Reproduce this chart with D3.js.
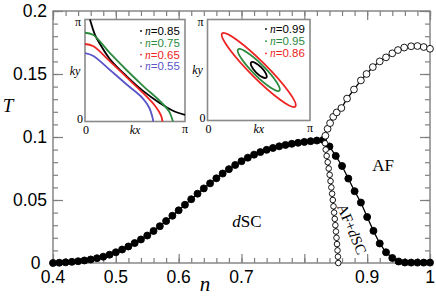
<!DOCTYPE html>
<html>
<head>
<meta charset="utf-8">
<script src="https://cdn.jsdelivr.net/npm/d3@7/dist/d3.min.js"></script>
<style>
body { margin: 0; background: #fff; }
svg { display: block; }
.lbl { font-family: "Liberation Sans", Arial, sans-serif; font-size: 17.5px; fill: #000; }
.serif { font-family: "Liberation Serif", "Times New Roman", serif; fill: #000; }
</style>
</head>
<body>
<div id="chart"></div>
<script>
// ---- main panel data ----
const scN = [0.40,0.41,0.42,0.43,0.44,0.45,0.46,0.47,0.48,0.49,
             0.50,0.51,0.52,0.53,0.54,0.55,0.56,0.57,0.58,0.59,
             0.60,0.61,0.62,0.63,0.64,0.65,0.66,0.67,0.68,0.69,
             0.70,0.71,0.72,0.73,0.74,0.75,0.76,0.77,0.78,0.79,
             0.80,0.81,0.82,0.83,0.84,0.85,0.86,0.87,0.88,0.89,
             0.90,0.91,0.92,0.93,0.94,0.95,0.96,0.97,0.98,0.99,1.00];
const scT = [0.0000,0.0002,0.0005,0.0009,0.0014,0.0020,0.0028,0.0038,0.0050,0.0066,
             0.0085,0.0107,0.0131,0.0158,0.0187,0.0218,0.0254,0.0292,0.0333,0.0375,
             0.0418,0.0462,0.0506,0.0550,0.0592,0.0632,0.0672,0.0710,0.0745,0.0778,
             0.0808,0.0836,0.0860,0.0880,0.0898,0.0913,0.0926,0.0937,0.0946,0.0954,
             0.0961,0.0967,0.0972,0.0977,0.0925,0.0850,0.0770,0.0670,0.0570,0.0480,
             0.0365,0.0255,0.0155,0.0085,0.0040,0.0012,0.0004,0.0003,0.0003,0.0003,0.0003];

// AF transition, lower (steep) branch
const afLowN = [0.8540,0.8535,0.8528,0.8520,0.8512,0.8503,0.8494,0.8484,0.8474,0.8464,
                0.8453,0.8442,0.8430,0.8417,0.8403,0.8388,0.8372,0.8355,0.8340,0.8330];
const afLowT = [0.000,0.005,0.010,0.015,0.020,0.025,0.030,0.035,0.040,0.045,
                0.050,0.055,0.060,0.065,0.070,0.075,0.080,0.085,0.090,0.095];
// AF transition, upper branch
const afHighN = [0.8335,0.8370,0.8410,0.8460,0.8515,0.8590,0.8680,0.8790,0.8900,0.8990,
                 0.9090,0.9200,0.9300,0.9400,0.9490,0.9590,0.9700,0.9800,0.9900,1.0000];
const afHighT = [0.1010,0.1065,0.1110,0.1160,0.1195,0.1230,0.1305,0.1377,0.1449,0.1500,
                 0.1555,0.1600,0.1632,0.1664,0.1690,0.1710,0.1720,0.1722,0.1714,0.1700];

const yTicks = [0, 0.05, 0.1, 0.15, 0.2];
const yTickLabels = ['0', '0.05', '0.1', '0.15', '0.2'];
const xTicks = [0.4, 0.5, 0.6, 0.7, 0.8, 0.9, 1.0];
const xTickLabels = ['0.4', '0.5', '0.6', '0.7', '', '0.9', '1'];

// ---- inset 1: Fermi surfaces, (kx/pi, ky/pi) ----
const fsLabels = ['0.85', '0.75', '0.65', '0.55'];
const fsColors = ['#000000', '#2b8a3e', '#ee2424', '#5a55c8'];
const fs085 = [[0.05,1.0],[0.10,0.85],[0.15,0.76],[0.25,0.61],[0.42,0.44],[0.58,0.30],[0.75,0.18],[0.88,0.105],[1.0,0.065]];
const fs075 = [[0.0,0.87],[0.08,0.85],[0.25,0.67],[0.42,0.50],[0.58,0.35],[0.75,0.20],[0.84,0.10],[0.87,0.03],[0.88,0.0]];
const fs065 = [[0.0,0.76],[0.08,0.74],[0.25,0.59],[0.42,0.43],[0.58,0.28],[0.70,0.155],[0.76,0.06],[0.775,0.0]];
const fs055 = [[0.0,0.67],[0.08,0.645],[0.25,0.505],[0.42,0.36],[0.58,0.225],[0.645,0.13],[0.675,0.04],[0.683,0.0]];

// ---- inset 2: hole pockets, semi-axes in units of pi ----
const pkLabels = ['0.99', '0.95', '0.86'];
const pkColors = ['#000000', '#2b8a3e', '#ee2424'];
const pkMajor = [0.105, 0.285, 0.505];
const pkMinor = [0.035, 0.058, 0.080];

const W = 436, H = 305;
const axisGray = '#7f7f7f';

let $svg;
let x, y;

function setupDOM() {
    $svg = d3.select('#chart').append('svg')
        .attr('width', W)
        .attr('height', H);

    x = d3.scaleLinear().domain([0.4, 1.0]).range([53, 430]);
    y = d3.scaleLinear().domain([0, 0.2]).range([263, 11]);
}

function drawTicks(g, axisFn, scale, values, size) {
    g.call(axisFn(scale).tickValues(values).tickSize(size).tickSizeOuter(0).tickFormat(''))
    g.select('.domain').remove();
    g.selectAll('.tick line').attr('stroke', axisGray).attr('stroke-width', 1.2);
}

function drawAxes() {
    const xMinor = d3.range(0.4, 1.0001, 0.02);
    const yMinor = d3.range(0, 0.2001, 0.01);

    const [x0, x1] = x.range();
    const [y0, y1] = y.range();

    const axes = $svg.append('g').attr('class', 'axes');

    drawTicks(axes.append('g').attr('transform', `translate(0,${y0})`), d3.axisBottom, x, xMinor, -5);
    drawTicks(axes.append('g').attr('transform', `translate(0,${y0})`), d3.axisBottom, x, xTicks, -9);
    drawTicks(axes.append('g').attr('transform', `translate(0,${y1})`), d3.axisTop, x, xMinor, -5);
    drawTicks(axes.append('g').attr('transform', `translate(0,${y1})`), d3.axisTop, x, xTicks, -9);
    drawTicks(axes.append('g').attr('transform', `translate(${x0},0)`), d3.axisLeft, y, yMinor, -5);
    drawTicks(axes.append('g').attr('transform', `translate(${x0},0)`), d3.axisLeft, y, yTicks, -10);
    drawTicks(axes.append('g').attr('transform', `translate(${x1},0)`), d3.axisRight, y, yMinor, -5);
    drawTicks(axes.append('g').attr('transform', `translate(${x1},0)`), d3.axisRight, y, yTicks, -10);

    axes.append('rect')
        .attr('x', x0).attr('y', y1)
        .attr('width', x1 - x0).attr('height', y0 - y1)
        .attr('fill', 'none')
        .attr('stroke', axisGray)
        .attr('stroke-width', 1.4);

    axes.append('g').selectAll('text')
        .data(xTicks)
        .join('text')
        .attr('class', 'lbl')
        .attr('x', d => x(d))
        .attr('y', y0 + 19.5)
        .attr('text-anchor', 'middle')
        .text((d, i) => xTickLabels[i]);

    // the "0" sits in the corner, nudge it clear of the "0.4" below
    axes.append('g').selectAll('text')
        .data(yTicks)
        .join('text')
        .attr('class', 'lbl')
        .attr('x', d => d === 0 ? x0 - 12.5 : x0 - 6)
        .attr('y', d => y(d) + 5.5)
        .attr('text-anchor', 'end')
        .text((d, i) => yTickLabels[i]);

    $svg.append('text')
        .attr('class', 'serif')
        .attr('x', 8).attr('y', 112)
        .attr('text-anchor', 'middle')
        .style('font-size', '19px')
        .style('font-style', 'italic')
        .text('T');

    $svg.append('text')
        .attr('class', 'serif')
        .attr('x', 205).attr('y', 291)
        .attr('text-anchor', 'middle')
        .style('font-size', '21px')
        .style('font-style', 'italic')
        .text('n');
}

function drawSeries(nArr, tArr, r, fill) {
    const pts = nArr.map((n, i) => [n, tArr[i]]);
    const line = d3.line().x(d => x(d[0])).y(d => y(d[1]));

    const g = $svg.append('g');
    g.append('path')
        .datum(pts)
        .attr('d', line)
        .attr('fill', 'none')
        .attr('stroke', '#000')
        .attr('stroke-width', 1.3);

    g.selectAll('circle')
        .data(pts)
        .join('circle')
        .attr('cx', d => x(d[0]))
        .attr('cy', d => y(d[1]))
        .attr('r', r)
        .attr('fill', fill)
        .attr('stroke', '#000')
        .attr('stroke-width', 0.9);
}

function drawLabels() {
    const t1 = $svg.append('text').attr('class', 'serif')
        .attr('x', 247).attr('y', 227)
        .attr('text-anchor', 'middle')
        .style('font-size', '17px');
    t1.append('tspan').style('font-style', 'italic').text('d');
    t1.append('tspan').text('SC');

    $svg.append('text').attr('class', 'serif')
        .attr('x', 383).attr('y', 171)
        .attr('text-anchor', 'middle')
        .style('font-size', '17px')
        .text('AF');

    const t3 = $svg.append('text').attr('class', 'serif')
        .attr('transform', 'translate(352,229) rotate(67)')
        .attr('text-anchor', 'middle')
        .attr('dy', '0.35em')
        .style('font-size', '15px');
    t3.append('tspan').text('AF+');
    t3.append('tspan').style('font-style', 'italic').text('d');
    t3.append('tspan').text('SC');
}

function insetFrame(box) {
    const ix = d3.scaleLinear().domain([0, 1]).range([box.x0, box.x1]);
    const iy = d3.scaleLinear().domain([0, 1]).range([box.y1, box.y0]);
    const g = $svg.append('g');

    g.append('rect')
        .attr('x', box.x0).attr('y', box.y0)
        .attr('width', box.x1 - box.x0).attr('height', box.y1 - box.y0)
        .attr('fill', '#fff')
        .attr('stroke', '#8a8a8a')
        .attr('stroke-width', 1.6);

    const lab = (tx, ty, s, italic) => g.append('text')
        .attr('class', 'serif')
        .attr('x', tx).attr('y', ty)
        .attr('text-anchor', 'middle')
        .attr('dy', '0.35em')
        .style('font-size', '12px')
        .style('font-style', italic ? 'italic' : 'normal')
        .text(s);

    lab(box.x0 - 7, iy(1) + 2, 'π');
    lab(box.x0 - 5, iy(0) - 3, '0');
    lab(box.x0 - 10, iy(0.5), 'ky', true);
    lab(ix(0) + 1, box.y1 + 8, '0');
    lab(ix(0.5), box.y1 + 8, 'kx', true);
    lab(ix(1), box.y1 + 7, 'π');

    return { g, ix, iy };
}

function insetLegend(g, labels, colors, lx, ly, dy) {
    labels.forEach((s, i) => {
        g.append('circle')
            .attr('cx', lx).attr('cy', ly + i * dy)
            .attr('r', 0.9)
            .attr('fill', colors[i]);
        const t = g.append('text')
            .attr('x', lx + 4).attr('y', ly + i * dy)
            .attr('dy', '0.35em')
            .style('font-size', '11.5px')
            .attr('fill', colors[i]);
        t.append('tspan')
            .style('font-family', '"Liberation Serif", "Times New Roman", serif')
            .style('font-style', 'italic')
            .text('n');
        t.append('tspan')
            .style('font-family', '"Liberation Sans", Arial, sans-serif')
            .text('=' + s);
    });
}

function drawInsets() {
    // Fermi surfaces
    const a = insetFrame({ x0: 85, x1: 185, y0: 19.5, y1: 121.5 });
    const line = d3.line().x(d => a.ix(d[0])).y(d => a.iy(d[1])).curve(d3.curveCatmullRom);
    [fs085, fs075, fs065, fs055].forEach((c, i) => {
        a.g.append('path')
            .datum(c)
            .attr('d', line)
            .attr('fill', 'none')
            .attr('stroke', fsColors[i])
            .attr('stroke-width', 1.8);
    });
    insetLegend(a.g, fsLabels, fsColors, 141, 31, 11.8);

    // hole pockets
    const b = insetFrame({ x0: 207.5, x1: 310, y0: 19.5, y1: 120.5 });
    const cx = b.ix(0.5), cy = b.iy(0.5);
    pkMajor.forEach((m, i) => {
        b.g.append('ellipse')
            .attr('cx', cx).attr('cy', cy)
            .attr('rx', b.ix(m) - b.ix(0))
            .attr('ry', b.ix(pkMinor[i]) - b.ix(0))
            .attr('transform', `rotate(45,${cx},${cy})`)
            .attr('fill', 'none')
            .attr('stroke', pkColors[i])
            .attr('stroke-width', 1.8);
    });
    insetLegend(b.g, pkLabels, pkColors, 266, 29, 12.2);
}

function init() {
    setupDOM();
    drawAxes();
    drawSeries(scN, scT, 3.5, '#000');
    drawSeries(afLowN, afLowT, 2.8, '#fff');
    drawSeries(afHighN, afHighT, 3.4, '#fff');
    drawLabels();
    drawInsets();
}

init();
</script>
</body>
</html>
